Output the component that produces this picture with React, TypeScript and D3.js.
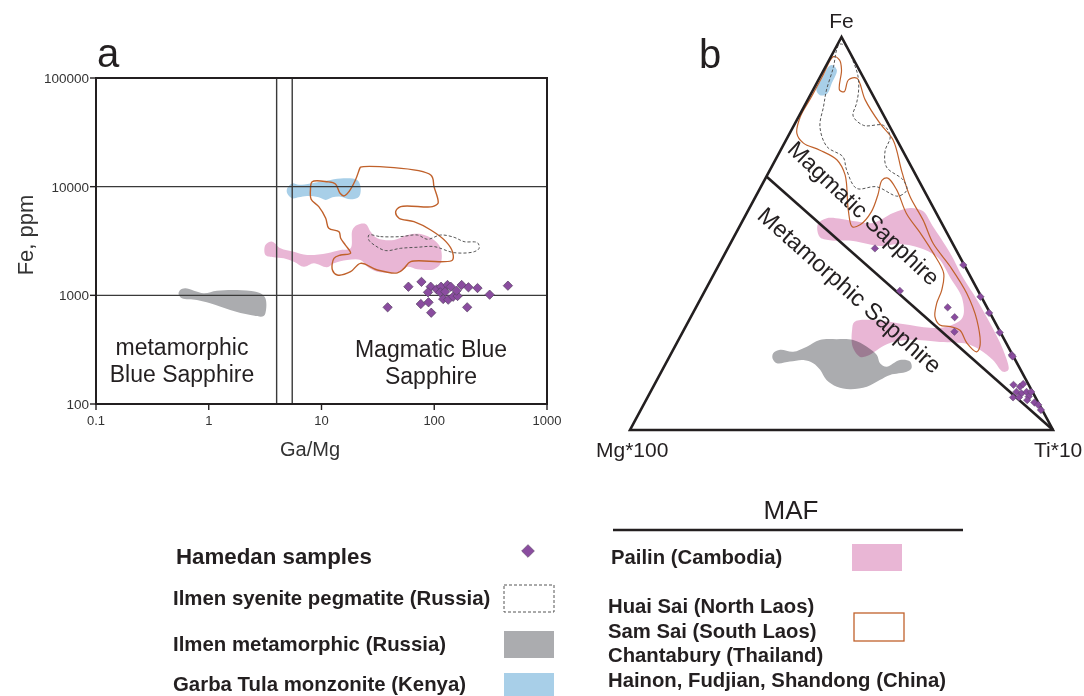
import React from 'react';
import * as d3 from 'd3';

// ---------- panel a: Ga/Mg vs Fe (ppm), log-log ----------
const xTicksA = [0.1, 1, 10, 100, 1000];
const yTicksA = [100, 1000, 10000, 100000];
const gridFe = [1000, 10000];
const gridGaMg = [4, 5.5];

// Hamedan samples [Ga/Mg, Fe ppm]
const hamedanA: [number, number][] = [
  [59, 1200], [77, 1330], [38.6, 776], [76, 832], [89, 863], [94, 692], [93, 1200],
  [88, 1066], [105, 1136], [115, 1200], [113, 1066], [125, 1080], [131, 1245], [140, 1200],
  [120, 925], [133, 912], [147, 971], [161, 986], [158, 1104], [175, 1245], [201, 1186],
  [242, 1167], [196, 776], [310, 1014], [450, 1227],
];

// Ilmen metamorphic (Russia)
const ilmenMetaA: [number, number][] = [
  [0.558, 1120], [0.618, 1160], [0.9, 1045], [1.18, 1100], [1.78, 1120], [2.87, 1045],
  [3.18, 940], [3.22, 733], [3.07, 645], [2.34, 659], [1.55, 733], [1.03, 845],
  [0.785, 906], [0.578, 940], [0.54, 1030],
];

// Garba Tula monzonite (Kenya)
const garbaTulaA: [number, number][] = [
  [4.96, 9660], [5.5, 10700], [6.28, 10400], [7.98, 10700], [11.2, 11400], [14.8, 11900],
  [20.7, 11500], [22.2, 10000], [21.5, 8090], [18.1, 7660], [14.8, 8090], [12.5, 7980],
  [10.9, 7540], [9.46, 7980], [7.46, 8200], [6.28, 7980], [5.5, 7820], [4.96, 8690],
];

// Pailin (Cambodia)
const pailinA: [number, number][] = [
  [3.18, 2900], [3.65, 3120], [4.33, 2710], [5.68, 2520], [7.46, 2350], [11.2, 2440],
  [14.8, 2610], [18.1, 2710], [18.8, 3990], [20.7, 4430], [24.6, 4530], [27.3, 3850],
  [31.3, 3350], [44, 3230], [57.8, 3590], [75.9, 3660], [99.5, 3230], [114, 2710],
  [114, 1970], [99.5, 1740], [71, 1740], [57.8, 1830], [50.4, 1650], [31.3, 1650],
  [25.5, 1830], [22.2, 2110], [16.9, 2110], [12.9, 1970], [11.2, 1810], [8.55, 1970],
  [6.97, 1830], [5.68, 2040], [4.62, 2190], [3.77, 2240], [3.18, 2350],
];

// Huai Sai, Sam Sai, Chantabury, Hainon... (outline)
const mafOutlineA: [number, number][] = [
  [22.2, 15100], [93.1, 12800], [99.5, 10000], [108, 7030], [96.4, 6550], [50.4, 6550],
  [45.5, 5890], [48.7, 5120], [66.1, 4760], [93.1, 3990], [127, 3120], [145, 2520],
  [145, 2110], [114, 2040], [61.8, 2040], [53.9, 1770], [47.1, 1610], [31.3, 1710],
  [22.2, 1970], [18.1, 1650], [13.8, 1540], [12.5, 1710], [12.9, 2190], [14.8, 2350],
  [18.1, 2440], [16.3, 2900], [14.8, 3350], [14.3, 3850], [11.6, 4140], [10.9, 5120],
  [9.46, 6550], [8.09, 7660], [7.98, 9310], [8.26, 11100], [11.2, 11100], [13.3, 10600],
  [14.6, 8690], [15.8, 8200], [17.5, 8990], [20, 11500], [21.9, 14800],
];

// Ilmen syenite pegmatite (Russia)
const ilmenSyeniteA: [number, number][] = [
  [26.3, 3590], [33.4, 3470], [50.4, 3470], [71, 3590], [87.1, 3280], [114, 3590],
  [150, 3420], [184, 3120], [242, 3050], [250, 2710], [226, 2520], [150, 2470],
  [99.5, 2810], [71, 2770], [50.4, 2710], [37.1, 2580], [30.2, 2850], [26.3, 3230],
];

// ---------- panel b: Fe - Mg*100 - Ti*10 ternary, [Fe %, Ti %] (Mg = rest) ----------
const hamedanB: [number, number][] = [
  [46.2, 34.8], [35.4, 46.1], [31.2, 59.5], [28.7, 62.4], [25, 64.2], [42, 57.8],
  [33.9, 65.9], [29.8, 70], [24.8, 75], [19.1, 80.7], [18.7, 81.1], [11.5, 84.9],
  [11, 86.7], [11.7, 87.1], [9.7, 86.5], [9.3, 87.9], [9.7, 88.9], [8.5, 90],
  [8.3, 86.4], [8.3, 87.8], [7.6, 90.1], [9.7, 90], [7, 92.1], [6.4, 93.3], [5.1, 94.6],
];

const garbaTulaB: [number, number][] = [
  [92.9, 1.3], [91.6, 3.1], [88.2, 3.6], [85.5, 3.8], [85.2, 2.3], [86.5, 0.8],
  [89.9, 0.7], [92.4, 0.7],
];

const ilmenSyeniteB: [number, number][] = [
  [98.2, 0.5], [97.5, 2.5], [94.1, 5.6], [90.3, 8.7], [86.5, 10.8], [83.1, 12], [79.9, 12.8],
  [77.5, 16.5], [77.5, 21.2], [74.6, 24.2], [71, 24.8], [66.9, 27.2], [63.6, 32.8],
  [61.1, 34.9], [59.5, 33.6], [61.9, 27.3], [61.5, 22.8], [66.2, 18.1], [69.5, 15.6],
  [72.1, 10.5], [77.2, 6.3], [82.3, 4.6], [86.5, 3.2], [92.4, 1.9], [96.7, 0.5],
];

const mafOutlineB: [number, number][] = [
  [95, 0.6], [94.1, 2.5], [91.6, 4.2], [86.5, 6.3], [86.1, 7.6], [89.1, 7.1], [89.5, 8.9],
  [84, 13.6], [78, 20.1], [73.8, 25.3], [65.6, 31.5], [59.4, 36.5], [53.4, 42.6],
  [47.5, 47.9], [41.6, 54.9], [34.8, 62.2], [28, 68], [21.2, 72.1], [19.9, 72],
  [22.1, 68.6], [25.4, 65.3], [26.3, 62.6], [26.7, 59.9], [28.8, 57.7], [32.2, 56.4],
  [35.6, 55.9], [39.9, 54.2], [45, 49.2], [50.1, 43.6], [55.1, 37.8], [61.1, 32.5],
  [64.1, 28.9], [63.6, 27.8], [59.8, 28.7], [55.5, 29.3], [52.2, 28.3], [51.7, 26.7],
  [56, 23.6], [64.9, 18.4], [68.7, 14.6], [71.2, 9.3], [73, 4.5], [75.5, 1.7],
  [79.7, 0.4], [84.8, 0.5], [89.9, 0.5],
];

const pailinB: [number, number][] = [
  [52.4, 18.2], [53.9, 19.6], [53.2, 26.1], [52.7, 31.1], [55.2, 34.6], [56.5, 38],
  [55.7, 41.4], [51.9, 45.6], [45, 53.2], [38.9, 59.2], [33.1, 65.5], [27.2, 71.5],
  [20.4, 78], [15.3, 81.8], [14.8, 80.8], [17.8, 76.9], [20.4, 72.5], [21.9, 68.8],
  [22.4, 62.1], [22.9, 54], [21.9, 49.9], [18.8, 46.6], [18.6, 45.1], [21.1, 42.1],
  [25.4, 39.8], [27.5, 39.3], [28, 43.4], [27, 51], [26, 57.9], [26.2, 61.4],
  [28.5, 64.3], [33.6, 61.7], [38.7, 56.4], [43.8, 50.9], [46.3, 45.4], [47.3, 40.1],
  [46.8, 35.7], [48.1, 28.7], [48.3, 23.1], [49.1, 20.3],
];

const ilmenMetaB: [number, number][] = [
  [19.5, 24.1], [20.4, 25.3], [19.9, 28.6], [21.2, 31.2], [22.9, 33.4], [23.1, 37.3],
  [22.9, 41.3], [21.2, 45.4], [19.1, 48.8], [17, 50.6], [16.1, 52.6], [17.8, 54.9],
  [17.4, 57.5], [15.7, 58.7], [14.8, 58], [14, 54.5], [12.7, 52.7], [11, 50.5],
  [10.4, 46.8], [11, 43.4], [12.7, 40.1], [15.3, 37.3], [17, 34.8], [17.8, 32.1],
  [17.4, 29.1], [17, 26.2], [18.2, 24.6],
];

const triangleB: [number, number][] = [[100, 0], [0, 0], [0, 100]];
const dividerB: [number, number][] = [[64.5, 0], [0, 100]];

const legendLeft = [
  'Hamedan samples',
  'Ilmen syenite pegmatite (Russia)',
  'Ilmen metamorphic (Russia)',
  'Garba Tula monzonite (Kenya)',
];
const legendMafLines = [
  'Huai Sai (North Laos)',
  'Sam Sai (South Laos)',
  'Chantabury (Thailand)',
  'Hainon, Fudjian, Shandong (China)',
];

const PINK = '#e9b6d5';
const BLUE = '#a8cfe8';
const GRAY = '#abacaf';
const BROWN = '#c0612b';
const PURPLE = '#8a4c9f';
const INK = '#231f20';
const FONT = '"Liberation Sans", Arial, Helvetica, sans-serif';

const xA = d3.scaleLog().domain([0.1, 1000]).range([96, 547]);
const yA = d3.scaleLog().domain([100, 100000]).range([404, 78]);

const tx = d3.scaleLinear().domain([0, 100]).range([630, 1053]);
const ty = d3.scaleLinear().domain([0, 100]).range([430, 37]);
const proj = (d: [number, number]): [number, number] => [tx(d[1] + d[0] / 2), ty(d[0])];

const blobA = d3
  .line<[number, number]>()
  .x((d) => xA(d[0]))
  .y((d) => yA(d[1]))
  .curve(d3.curveCatmullRomClosed.alpha(0.5));

const blobB = d3
  .line<[number, number]>()
  .x((d) => proj(d)[0])
  .y((d) => proj(d)[1])
  .curve(d3.curveCatmullRomClosed.alpha(0.5));

const straightB = d3
  .line<[number, number]>()
  .x((d) => proj(d)[0])
  .y((d) => proj(d)[1]);

const diamond = (side: number) => d3.symbol(d3.symbolSquare, side * side)() as string;

const fmtTick = (v: number) => (v < 1 ? String(v) : d3.format('d')(v));

export default function App() {
  const [xmin, xmax] = xA.range();
  const [ybot, ytop] = yA.range();
  const dA = diamond(6.6);
  const dB = diamond(5.2);

  return (
    <svg
      width={1084}
      height={696}
      style={{ position: 'absolute', left: 0, top: 0, background: '#fff' }}
      fontFamily={FONT}
    >
      {/* ---------- panel a ---------- */}
      <g>
        <path d={blobA(ilmenMetaA) as string} fill={GRAY} />
        <path d={blobA(pailinA) as string} fill={PINK} />
        <path d={blobA(garbaTulaA) as string} fill={BLUE} />
        <path d={blobA(mafOutlineA) as string} fill="none" stroke={BROWN} strokeWidth={1.4} />
        <path
          d={blobA(ilmenSyeniteA) as string}
          fill="none"
          stroke="#555"
          strokeWidth={1}
          strokeDasharray="3,2"
        />

        {gridFe.map((v) => (
          <line key={'gy' + v} x1={xmin} x2={xmax} y1={yA(v)} y2={yA(v)} stroke="#3a3a3a" strokeWidth={1.4} />
        ))}
        {gridGaMg.map((v) => (
          <line key={'gx' + v} x1={xA(v)} x2={xA(v)} y1={ybot} y2={ytop} stroke="#3a3a3a" strokeWidth={1.4} />
        ))}

        {hamedanA.map((d, i) => (
          <path
            key={'ha' + i}
            d={dA}
            transform={`translate(${xA(d[0])},${yA(d[1])}) rotate(45)`}
            fill={PURPLE}
            stroke="#5b4466"
            strokeWidth={0.7}
          />
        ))}

        <rect x={xmin} y={ytop} width={xmax - xmin} height={ybot - ytop} fill="none" stroke={INK} strokeWidth={2} />

        {xTicksA.map((v) => (
          <g key={'xt' + v}>
            <line x1={xA(v)} x2={xA(v)} y1={ybot} y2={ybot + 6} stroke={INK} strokeWidth={1.4} />
            <text x={xA(v)} y={ybot + 21} textAnchor="middle" fontSize={13} fill="#333">
              {fmtTick(v)}
            </text>
          </g>
        ))}
        {yTicksA.map((v) => (
          <g key={'yt' + v}>
            <line x1={xmin - 6} x2={xmin} y1={yA(v)} y2={yA(v)} stroke={INK} strokeWidth={1.4} />
            <text x={xmin - 7} y={yA(v) + 5} textAnchor="end" fontSize={13.5} fill="#333">
              {fmtTick(v)}
            </text>
          </g>
        ))}

        <text x={310} y={456} textAnchor="middle" fontSize={20} fill="#333">
          Ga/Mg
        </text>
        <text transform="translate(33,235) rotate(-90)" textAnchor="middle" fontSize={22} fill="#333">
          Fe, ppm
        </text>
        <text x={97} y={67} fontSize={40} fill={INK}>
          a
        </text>

        <text x={182} y={355} textAnchor="middle" fontSize={23} fill={INK}>
          metamorphic
        </text>
        <text x={182} y={382} textAnchor="middle" fontSize={23} fill={INK}>
          Blue Sapphire
        </text>
        <text x={431} y={357} textAnchor="middle" fontSize={23} fill={INK}>
          Magmatic Blue
        </text>
        <text x={431} y={384} textAnchor="middle" fontSize={23} fill={INK}>
          Sapphire
        </text>
      </g>

      {/* ---------- panel b ---------- */}
      <g>
        <path d={blobB(pailinB) as string} fill={PINK} />
        <path d={blobB(ilmenMetaB) as string} fill={GRAY} style={{ mixBlendMode: 'multiply' }} />
        <path d={blobB(garbaTulaB) as string} fill={BLUE} />
        <path d={blobB(mafOutlineB) as string} fill="none" stroke={BROWN} strokeWidth={1.2} />
        <path
          d={blobB(ilmenSyeniteB) as string}
          fill="none"
          stroke="#555"
          strokeWidth={1}
          strokeDasharray="3,2"
        />

        <path
          d={(straightB(triangleB) as string) + 'Z'}
          fill="none"
          stroke={INK}
          strokeWidth={2.6}
          strokeLinejoin="miter"
        />
        <path d={straightB(dividerB) as string} fill="none" stroke={INK} strokeWidth={2.6} />

        {hamedanB.map((d, i) => {
          const [px, py] = proj(d);
          return (
            <path
              key={'hb' + i}
              d={dB}
              transform={`translate(${px},${py}) rotate(45)`}
              fill={PURPLE}
              stroke="#5b4466"
              strokeWidth={0.5}
            />
          );
        })}

        {(() => {
          const [mx, my] = proj([55.2, 27.7]);
          const [nx, ny] = proj([35.6, 34.2]);
          return (
            <>
              <text
                transform={`translate(${mx},${my}) rotate(43.3)`}
                textAnchor="middle"
                dy="0.35em"
                fontSize={23}
                fill={INK}
              >
                Magmatic Sapphire
              </text>
              <text
                transform={`translate(${nx},${ny}) rotate(41.6)`}
                textAnchor="middle"
                dy="0.35em"
                fontSize={23.5}
                fill={INK}
              >
                Metamorphic Sapphire
              </text>
            </>
          );
        })()}

        <text x={tx(50)} y={28} textAnchor="middle" fontSize={21} fill={INK}>
          Fe
        </text>
        <text x={596} y={457} fontSize={21} fill={INK}>
          Mg*100
        </text>
        <text x={1034} y={457} fontSize={21} fill={INK}>
          Ti*10
        </text>
        <text x={699} y={68} fontSize={40} fill={INK}>
          b
        </text>
      </g>

      {/* ---------- legend ---------- */}
      <g fontWeight="bold" fill={INK}>
        <text x={176} y={564} fontSize={22.3}>
          {legendLeft[0]}
        </text>
        <text x={173} y={605} fontSize={20.4}>
          {legendLeft[1]}
        </text>
        <text x={173} y={651} fontSize={20.4}>
          {legendLeft[2]}
        </text>
        <text x={173} y={691} fontSize={20.4}>
          {legendLeft[3]}
        </text>

        <path d={diamond(9)} transform="translate(528,551) rotate(45)" fill={PURPLE} stroke="#5b4466" strokeWidth={0.6} />
        <rect x={504} y={585} width={50} height={27} fill="none" stroke="#555" strokeWidth={1} strokeDasharray="3,2" />
        <rect x={504} y={631} width={50} height={27} fill={GRAY} />
        <rect x={504} y={673} width={50} height={27} fill={BLUE} />

        <text x={791} y={519} textAnchor="middle" fontSize={26} fontWeight="normal">
          MAF
        </text>
        <line x1={613} x2={963} y1={530} y2={530} stroke={INK} strokeWidth={2.4} />
        <text x={611} y={564} fontSize={20.3}>
          Pailin (Cambodia)
        </text>
        <rect x={852} y={544} width={50} height={27} fill={PINK} />
        {legendMafLines.map((t, i) => (
          <text key={t} x={608} y={613 + i * 24.7} fontSize={20.3}>
            {t}
          </text>
        ))}
        <rect x={854} y={613} width={50} height={28} fill="none" stroke={BROWN} strokeWidth={1.3} />
      </g>
    </svg>
  );
}
